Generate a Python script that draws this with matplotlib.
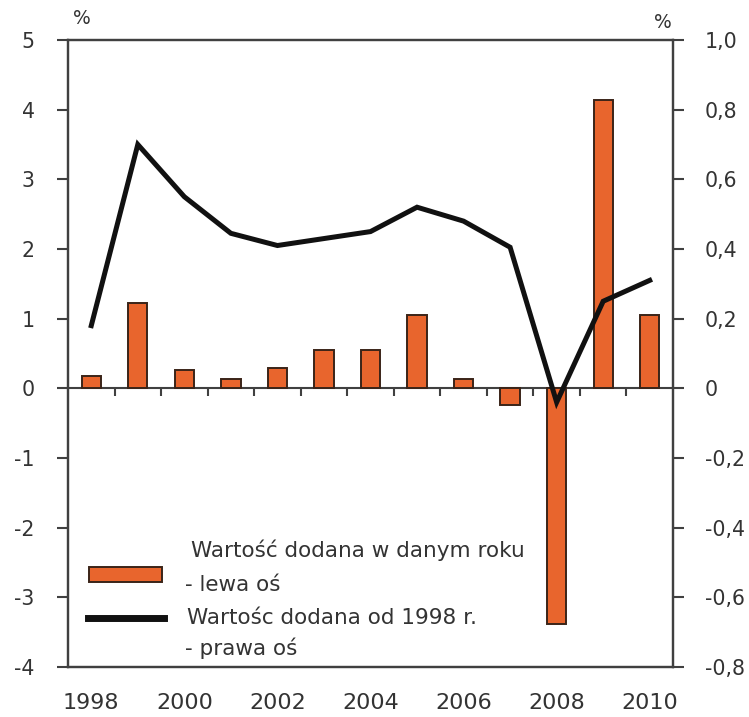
import numpy as np
import matplotlib
matplotlib.use("Agg")
import matplotlib.pyplot as plt
from matplotlib.patches import Rectangle
from matplotlib.lines import Line2D
from matplotlib.markers import TICKDOWN

plt.rcParams['font.family'] = ['DejaVu Sans']
plt.rcParams['axes.unicode_minus'] = False

years = [1998, 1999, 2000, 2001, 2002, 2003, 2004, 2005, 2006, 2007, 2008, 2009, 2010]
annual = [0.18, 1.22, 0.26, 0.14, 0.29, 0.55, 0.55, 1.05, 0.14, -0.24, -3.38, 4.14, 1.05]
cumulative = [0.18, 0.70, 0.55, 0.445, 0.41, 0.43, 0.45, 0.52, 0.48, 0.405, -0.04, 0.25, 0.31]

left_ticks = [-4, -3, -2, -1, 0, 1, 2, 3, 4, 5]
right_ticks = [-0.8, -0.6, -0.4, -0.2, 0, 0.2, 0.4, 0.6, 0.8, 1.0]
right_labels = ["-0,8", "-0,6", "-0,4", "-0,2", "0", "0,2", "0,4", "0,6", "0,8", "1,0"]
year_labels = ["1998", "2000", "2002", "2004", "2006", "2008", "2010"]

legend_bar = "Wartość dodana w danym roku"
legend_bar2 = "- lewa oś"
legend_line = "Wartośc dodana od 1998 r."
legend_line2 = "- prawa oś"

BAR = "#E8652D"
EDGE = "#3a2418"
TXT = "#333333"
SPINE = "#404040"

W, H, DPI = 749, 717, 100
fig = plt.figure(figsize=(W / DPI, H / DPI), dpi=DPI)
ax = fig.add_axes([68 / W, 1 - 667 / H, 605 / W, 627 / H])
ax2 = ax.twinx()

x = np.arange(len(years))
ax.bar(x, annual, width=0.415, color=BAR, edgecolor=EDGE, linewidth=1.4, zorder=3)
ax.axhline(0, color=SPINE, linewidth=1.5, zorder=2)
# small marks on the zero line between the categories
ax.plot(x[:-1] + 0.5, np.zeros(len(x) - 1), linestyle="none", marker=TICKDOWN,
        markersize=6, markeredgewidth=1.5, color=SPINE, zorder=2)

ax2.plot(x, cumulative, color="#111111", linewidth=3.6, zorder=4,
         solid_joinstyle="miter")

ax.set_xlim(-0.5, len(years) - 0.5)
ax.set_ylim(-4, 5)
ax2.set_ylim(-0.8, 1.0)

ax.set_yticks(left_ticks)
ax.set_yticklabels([str(v) for v in left_ticks])
ax2.set_yticks(right_ticks)
ax2.set_yticklabels(right_labels)

ax.set_xticks(x[::2])
ax.set_xticklabels(year_labels)
ax.tick_params(axis="x", length=0, pad=19, labelsize=16, labelcolor=TXT)
ax.tick_params(axis="y", length=8, width=1.5, color=SPINE, pad=16,
               labelsize=14.8, labelcolor=TXT)
ax2.tick_params(axis="y", length=8, width=1.5, color=SPINE, pad=15,
                labelsize=14.8, labelcolor=TXT)

for a in (ax, ax2):
    for s in a.spines.values():
        s.set_color(SPINE)
        s.set_linewidth(1.6)
ax2.patch.set_visible(False)

# axis unit labels
fig.text(82 / W, 1 - 19 / H, "%", fontsize=13.5, color=TXT, ha="center", va="center")
fig.text(663 / W, 1 - 22 / H, "%", fontsize=13.5, color=TXT, ha="center", va="center")

# legend
tf = fig.transFigure
fig.patches.append(Rectangle((89 / W, 1 - 582 / H), 73 / W, 15 / H, transform=tf,
                             facecolor=BAR, edgecolor=EDGE, linewidth=1.4))
fig.lines.append(Line2D([88 / W, 164 / W], [1 - 618 / H, 1 - 618 / H], transform=tf,
                        color="#111111", linewidth=5, solid_capstyle="projecting"))
fs = 15.5
fig.text(191 / W, 1 - 550 / H, legend_bar, fontsize=fs, color=TXT, va="center")
fig.text(185 / W, 1 - 585 / H, legend_bar2, fontsize=fs, color=TXT, va="center")
fig.text(187 / W, 1 - 618 / H, legend_line, fontsize=fs, color=TXT, va="center")
fig.text(185 / W, 1 - 648 / H, legend_line2, fontsize=fs, color=TXT, va="center")

fig.savefig("out.png", dpi=DPI)
